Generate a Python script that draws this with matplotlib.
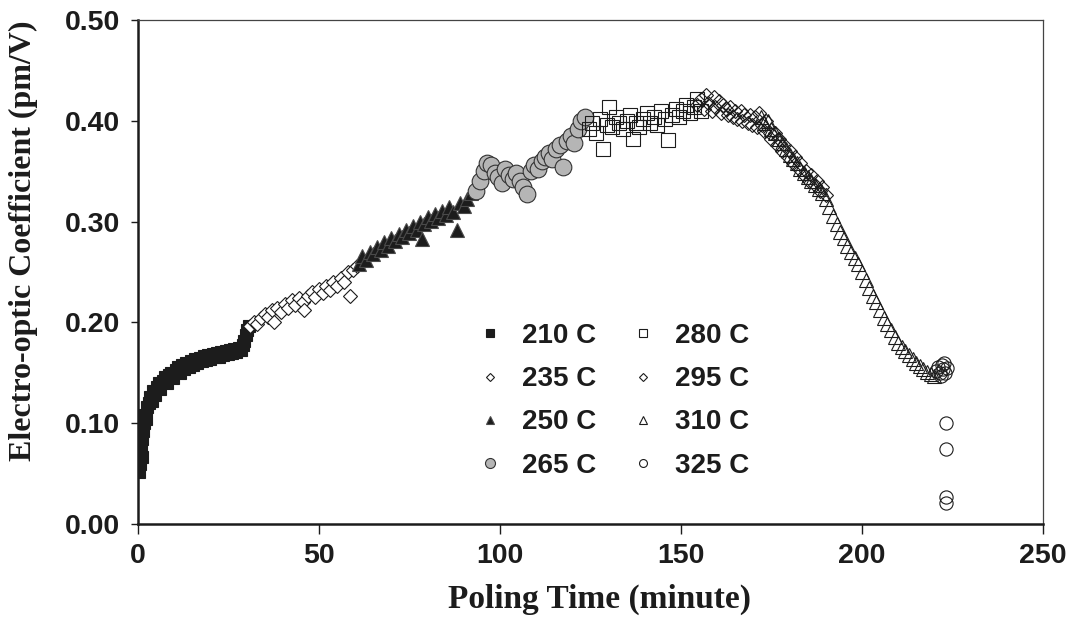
"""Electro-optic coefficient versus poling time at stepped poling temperatures."""

import matplotlib

matplotlib.use("Agg")
import matplotlib.pyplot as plt

# --- data -------------------------------------------------------------------
t_210 = [0.4, 0.6, 0.8, 1.0, 1.2, 1.4, 1.7, 2.0, 2.3, 2.6, 3.0, 3.4, 3.8, 4.2, 4.7,
         5.2, 5.7, 6.2, 6.8, 7.4, 8.0, 8.6, 9.2, 9.8, 10.4, 11.0, 11.6, 12.2, 12.8,
         13.4, 14.0, 14.6, 15.2, 15.8, 16.4, 17.0, 17.6, 18.2, 18.8, 19.4, 20.0,
         20.6, 21.2, 21.8, 22.4, 23.0, 23.6, 24.2, 24.8, 25.4, 26.0, 26.6, 27.2,
         27.8, 28.4, 29.0, 29.4, 29.8, 30.2, 30.6]
eo_210 = [0.052, 0.060, 0.072, 0.066, 0.084, 0.092, 0.100, 0.108, 0.104, 0.116, 0.120,
          0.126, 0.122, 0.132, 0.128, 0.136, 0.140, 0.134, 0.142, 0.146, 0.140, 0.148,
          0.150, 0.145, 0.153, 0.156, 0.150, 0.158, 0.154, 0.160, 0.156, 0.162, 0.158,
          0.164, 0.160, 0.165, 0.162, 0.167, 0.163, 0.168, 0.164, 0.169, 0.166, 0.170,
          0.166, 0.171, 0.168, 0.172, 0.169, 0.173, 0.170, 0.174, 0.171, 0.175, 0.173,
          0.178, 0.182, 0.188, 0.192, 0.196]

t_235 = [31.0, 32.0, 33.0, 34.0, 35.0, 36.0, 37.0, 37.5, 38.5, 39.5, 40.5, 41.5, 42.5,
         43.5, 44.5, 45.5, 46.0, 47.0, 48.0, 49.0, 50.0, 51.0, 52.0, 53.0, 54.0, 55.0,
         56.0, 57.0, 58.0, 58.5, 59.5, 60.5]
eo_235 = [0.196, 0.200, 0.198, 0.204, 0.208, 0.205, 0.212, 0.200, 0.214, 0.210, 0.218,
          0.214, 0.222, 0.217, 0.224, 0.220, 0.212, 0.226, 0.230, 0.225, 0.233, 0.229,
          0.236, 0.232, 0.240, 0.236, 0.244, 0.240, 0.250, 0.226, 0.252, 0.256]

t_250 = [61.0, 62.0, 63.0, 64.0, 65.0, 66.0, 67.0, 68.0, 69.0, 70.0, 71.0, 72.0, 73.0,
         74.0, 75.0, 76.0, 77.0, 78.0, 78.5, 79.0, 80.0, 81.0, 82.0, 83.0, 84.0, 85.0,
         86.0, 87.0, 88.0, 89.0, 90.0, 91.0, 92.0, 93.0]
eo_250 = [0.258, 0.266, 0.262, 0.270, 0.268, 0.275, 0.272, 0.280, 0.276, 0.284, 0.281,
          0.288, 0.285, 0.292, 0.289, 0.296, 0.292, 0.300, 0.283, 0.298, 0.305, 0.301,
          0.308, 0.304, 0.311, 0.307, 0.314, 0.310, 0.292, 0.318, 0.315, 0.322, 0.328,
          0.334]

t_265 = [93.5, 94.5, 95.5, 96.5, 97.5, 98.5, 99.5, 100.5, 101.5, 102.5, 103.5, 104.5,
         105.5, 106.5, 107.5, 108.5, 109.5, 110.5, 111.5, 112.5, 113.5, 114.5, 115.5,
         116.5, 117.5, 118.5, 119.5, 120.5, 121.5, 122.5, 123.5]
eo_265 = [0.330, 0.340, 0.350, 0.358, 0.356, 0.348, 0.344, 0.338, 0.352, 0.346, 0.342,
          0.348, 0.340, 0.334, 0.327, 0.350, 0.356, 0.352, 0.360, 0.364, 0.368, 0.362,
          0.372, 0.376, 0.354, 0.380, 0.385, 0.378, 0.392, 0.400, 0.404]

t_280 = [124.5, 125.5, 126.5, 127.5, 128.5, 129.5, 130.0, 131.0, 132.0, 133.0, 134.0,
         135.0, 136.0, 136.7, 137.5, 138.5, 139.5, 140.5, 141.5, 142.5, 143.5, 144.5,
         145.5, 146.4, 147.5, 148.5, 149.5, 150.5, 151.5, 152.5, 153.5, 154.5, 155.5]
eo_280 = [0.392, 0.398, 0.388, 0.402, 0.372, 0.396, 0.414, 0.394, 0.404, 0.398, 0.392,
          0.400, 0.406, 0.382, 0.398, 0.394, 0.402, 0.408, 0.398, 0.404, 0.396, 0.410,
          0.402, 0.381, 0.406, 0.412, 0.404, 0.410, 0.416, 0.408, 0.414, 0.422, 0.410]

t_295 = [154.5, 155.5, 156.5, 157.0, 157.5, 158.5, 159.0, 159.5, 160.5, 161.0, 161.5,
         162.5, 163.0, 163.5, 164.5, 165.0, 165.5, 166.5, 167.0, 167.5, 168.5, 169.0,
         169.5, 170.5, 171.0, 171.5, 172.5, 173.0, 173.5, 174.5, 175.0, 176.0, 176.5,
         177.0, 178.0, 178.5, 179.5, 180.0, 181.0, 181.5, 182.5, 183.0, 184.0, 184.5,
         185.5, 186.0, 187.0, 187.5, 188.5, 189.0, 190.0]
eo_295 = [0.416, 0.422, 0.412, 0.426, 0.418, 0.410, 0.424, 0.414, 0.420, 0.408, 0.416,
          0.412, 0.406, 0.414, 0.404, 0.410, 0.402, 0.410, 0.400, 0.406, 0.398, 0.406,
          0.396, 0.404, 0.394, 0.408, 0.396, 0.390, 0.400, 0.388, 0.382, 0.388, 0.376,
          0.382, 0.370, 0.376, 0.364, 0.370, 0.358, 0.364, 0.352, 0.358, 0.346, 0.350,
          0.340, 0.346, 0.336, 0.340, 0.330, 0.334, 0.326]

t_310 = [172.0, 173.0, 174.0, 175.0, 176.0, 177.0, 178.0, 179.0, 180.0, 181.0, 182.0,
         183.0, 184.0, 185.0, 186.0, 187.0, 188.0, 189.0, 190.0, 191.0, 192.0, 193.0,
         194.0, 195.0, 196.0, 197.0, 198.0, 199.0, 200.0, 201.0, 202.0, 203.0, 204.0,
         205.0, 206.0, 207.0, 208.0, 209.0, 210.0, 211.0, 212.0, 213.0, 214.0, 215.0,
         216.0, 217.0, 218.0, 219.0, 220.0]
eo_310 = [0.404, 0.398, 0.400, 0.392, 0.388, 0.382, 0.378, 0.372, 0.366, 0.362, 0.358,
          0.352, 0.348, 0.344, 0.340, 0.336, 0.332, 0.328, 0.322, 0.314, 0.306, 0.298,
          0.290, 0.284, 0.276, 0.270, 0.264, 0.258, 0.250, 0.242, 0.234, 0.226, 0.220,
          0.212, 0.204, 0.198, 0.192, 0.186, 0.180, 0.176, 0.172, 0.168, 0.164, 0.160,
          0.157, 0.154, 0.151, 0.149, 0.147]

t_325 = [220.5, 221.0, 221.5, 222.0, 222.5, 223.0, 223.5, 221.8, 222.8, 223.2, 223.2,
         223.2, 223.2]
eo_325 = [0.152, 0.156, 0.150, 0.158, 0.154, 0.150, 0.155, 0.147, 0.160, 0.100, 0.074,
          0.027, 0.021]

labels = ["210 C", "235 C", "250 C", "265 C", "280 C", "295 C", "310 C", "325 C"]
x_ticks = [0, 50, 100, 150, 200, 250]
y_ticks = [0.0, 0.1, 0.2, 0.3, 0.4, 0.5]

INK = "#1c1c1c"
SANS = ["Liberation Sans", "DejaVu Sans"]
SERIF = ["Liberation Serif", "DejaVu Serif"]

# marker, size, face, edge for each series (same order as labels)
styles = [
    ("s", 9.0, INK, INK),
    ("D", 7.0, "white", INK),
    ("^", 9.5, INK, "#4a4a4a"),
    ("o", 12.0, "#b5b5b5", "#333333"),
    ("s", 10.5, "none", INK),
    ("D", 7.5, "none", INK),
    ("^", 10.5, "none", INK),
    ("o", 9.5, "none", INK),
]
series = [
    (t_210, eo_210), (t_235, eo_235), (t_250, eo_250), (t_265, eo_265),
    (t_280, eo_280), (t_295, eo_295), (t_310, eo_310), (t_325, eo_325),
]

fig = plt.figure(figsize=(10.83, 6.29), dpi=100)
ax = fig.add_axes([0.1274, 0.1669, 0.8356, 0.8013])

handles = []
for (t, eo), label, (marker, ms, face, edge) in zip(series, labels, styles):
    (h,) = ax.plot(t, eo, linestyle="none", marker=marker, markersize=ms,
                   markerfacecolor=face, markeredgecolor=edge,
                   markeredgewidth=0.8, label=label)
    handles.append(h)

ax.set_xlim(0, 250)
ax.set_ylim(0, 0.5)
ax.set_xticks(x_ticks)
ax.set_yticks(y_ticks)
ax.set_yticklabels([f"{v:.2f}" for v in y_ticks])
ax.tick_params(axis="x", direction="out", length=7, width=1, pad=7, colors=INK)
ax.tick_params(axis="y", direction="out", length=5, width=1, pad=8, colors=INK)
for lab in ax.get_xticklabels() + ax.get_yticklabels():
    lab.set_family(SANS)
    lab.set_fontweight("bold")
    lab.set_fontsize(20.5)

for side in ("left", "bottom"):
    ax.spines[side].set_linewidth(1.8)
    ax.spines[side].set_color(INK)
for side in ("top", "right"):
    ax.spines[side].set_linewidth(0.9)
    ax.spines[side].set_color("#444444")

ax.set_xlabel("Poling Time (minute)", family=SERIF, fontweight="bold",
              fontsize=24, color=INK)
ax.set_ylabel("Electro-optic Coefficient (pm/V)", family=SERIF,
              fontweight="bold", fontsize=23, color=INK)
ax.xaxis.set_label_coords(0.51, -0.118)
ax.yaxis.set_label_coords(-0.111, 0.563)

leg = ax.legend(handles=handles, labels=labels, ncol=2, frameon=False,
                loc="upper left", bbox_to_anchor=(451 / 1083, 1 - 298 / 629),
                bbox_transform=fig.transFigure, markerscale=0.6,
                handlelength=1.0, handletextpad=0.65, columnspacing=1.2,
                labelspacing=0.62, prop={"family": SANS, "weight": "bold",
                                         "size": 20})
for txt in leg.get_texts():
    txt.set_color(INK)

fig.savefig("out.png", dpi=100, facecolor="white")
